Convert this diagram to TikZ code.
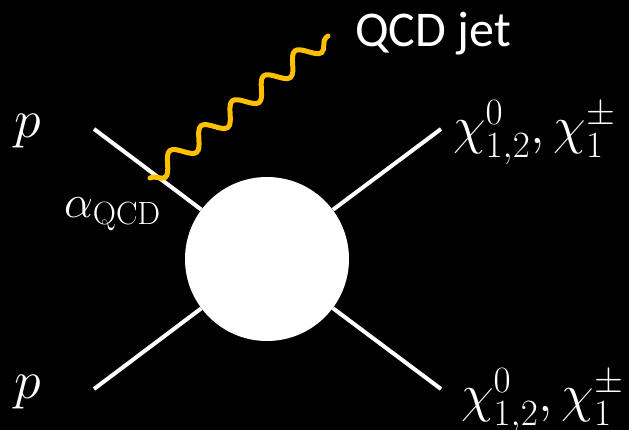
\documentclass[tikz,border=0pt]{standalone}
\usepackage{fix-cm}
\usepackage[no-math]{fontspec}
\setmainfont{Carlito}
\usetikzlibrary{decorations.pathmorphing}
\definecolor{jetorange}{RGB}{255,192,0}

\begin{document}
\begin{tikzpicture}[x=1pt, y=1pt,
    leg/.style={draw=white, line width=4pt},
    gluon/.style={draw=jetorange, line width=5pt, line cap=round, decorate,
        decoration={snake, mirror, segment length=40pt, amplitude=9pt}},
    lbl/.style={text=white, inner sep=0pt, font=\fontsize{54}{60}\selectfont}]
\fill[black] (0,0) rectangle (629,430);
\useasboundingbox (0,0) rectangle (629,430);
% the blob and its four legs
\node[circle, fill=white, minimum size=164pt, inner sep=0pt] (blob) at (267,171) {};
\coordinate (inA) at (94,301);
\coordinate (inB) at (94,41);
\coordinate (outA) at (441,301);
\coordinate (outB) at (441,41);
\foreach \c in {inA,inB,outA,outB}
    \draw[leg] (\c) -- (blob);
% radiated jet
\coordinate (jetA) at (150,252);
\coordinate (jetB) at (328,394);
\draw[gluon] (jetA) -- (jetB);
% labels
\node[lbl, anchor=base] (pA) at (28,292) {$p$};
\node[lbl, anchor=base] (pB) at (28,31) {$p$};
\node[lbl, anchor=base west, font=\fontsize{46}{50}\selectfont] (alpha) at (64,212) {$\alpha_{\mathrm{QCD}}$};
\node[lbl, anchor=base west, font=\fontsize{50}{56}\selectfont] (jet) at (355,383) {QCD jet};
\node[lbl, anchor=base west, font=\fontsize{53}{60}\selectfont] (chiA) at (453,286) {$\chi^0_{1,2},\chi^\pm_1$};
\node[lbl, anchor=base west, font=\fontsize{53}{60}\selectfont] (chiB) at (461,18) {$\chi^0_{1,2},\chi^\pm_1$};
\end{tikzpicture}
\end{document}
